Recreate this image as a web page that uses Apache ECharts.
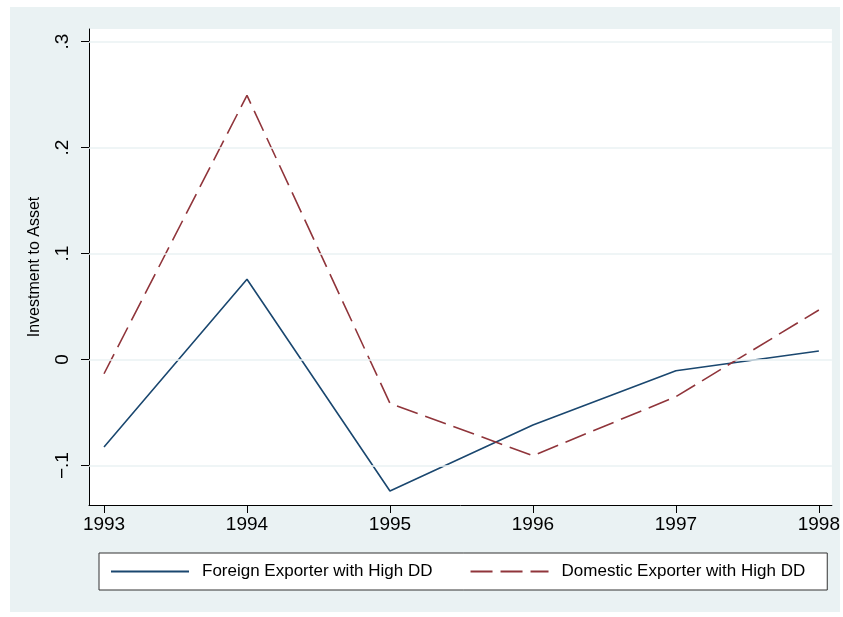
<!DOCTYPE html>
<html>
<head>
<meta charset="utf-8">
<script src="https://cdn.jsdelivr.net/npm/echarts@6/dist/echarts.min.js"></script>
<style>html,body{margin:0;padding:0;background:#fff}#c{width:843px;height:617px}</style>
</head>
<body>
<div id="c"></div>
<script>
var years = [1993, 1994, 1995, 1996, 1997, 1998];
var foreignHighDD = [-0.0825, 0.0757, -0.124, -0.0618, -0.0106, 0.008];
var domesticHighDD = [-0.0134, 0.2492, -0.0413, -0.0907, -0.035, 0.0467];
var yTicks = [-0.1, 0, 0.1, 0.2, 0.3];
var yTickLabels = ['\u2212.1', '0', '.1', '.2', '.3'];
var seriesNames = ['Foreign Exporter with High DD', 'Domestic Exporter with High DD'];
var yTitle = 'Investment to Asset';

var FONT = 'Liberation Sans, Arial, sans-serif';
function pairs(xs, ys){ return xs.map(function(x,i){ return [x, ys[i]]; }); }

var chart = echarts.init(document.getElementById('c'), null, {renderer:'canvas'});
chart.setOption({
  backgroundColor: '#ffffff',
  animation: false,
  graphic: [{
    type: 'rect', z: -100, silent: true,
    shape: {x: 10, y: 7, width: 830, height: 605},
    style: {fill: '#eaf2f3'}
  }],
  grid: {left: 89, top: 29, width: 745, height: 476, show: true, backgroundColor: '#ffffff', borderWidth: 0},
  xAxis: {
    type: 'value', min: 1992.895, max: 1998.091,
    axisLine: {onZero: false, lineStyle: {color: '#000', width: 1}},
    axisTick: {customValues: years, length: 8, lineStyle: {color: '#000'}},
    axisLabel: {customValues: years, margin: 10, fontSize: 19, color: '#000', fontFamily: FONT,
      formatter: function(v){ return String(Math.round(v)); }},
    splitLine: {show: false}
  },
  yAxis: {
    type: 'value', min: -0.1372, max: 0.3118,
    name: yTitle, nameLocation: 'middle', nameRotate: 90, nameGap: 46,
    nameTextStyle: {fontSize: 16, color: '#000', fontFamily: FONT},
    axisLine: {show: true, onZero: false, lineStyle: {color: '#000', width: 1}},
    axisTick: {show: true, customValues: yTicks, length: 8, lineStyle: {color: '#000'}},
    axisLabel: {customValues: yTicks, rotate: 90, margin: 17, fontSize: 19, color: '#000', fontFamily: FONT,
      formatter: function(v){
        for (var i=0;i<yTicks.length;i++){ if (Math.abs(v-yTicks[i])<1e-6) return yTickLabels[i]; }
        return '';
      }},
    splitLine: {show: false}
  },
  legend: {
    left: 99, top: 553, orient: 'horizontal',
    padding: [10, 22, 10, 11],
    itemWidth: 78, itemHeight: 14, itemGap: 37,
    backgroundColor: '#ffffff', borderColor: '#333', borderWidth: 1,
    itemStyle: {opacity: 0},
    textStyle: {fontSize: 17, color: '#000', fontFamily: FONT, padding: [0,0,0,8]},
    data: seriesNames
  },
  series: [
    {
      type: 'line', name: '__grid', data: [], z: 1, silent: true,
      markLine: {
        silent: true, symbol: 'none', label: {show: false},
        lineStyle: {color: '#eaf2f3', width: 1.5, type: 'solid'},
        data: yTicks.map(function(t){ return {yAxis: t}; })
      }
    },
    {
      type: 'line', name: seriesNames[0], data: pairs(years, foreignHighDD), z: 3,
      symbol: 'none', color: '#1a476f',
      lineStyle: {color: '#1a476f', width: 1.6}
    },
    {
      type: 'line', name: seriesNames[1], data: pairs(years, domesticHighDD), z: 3,
      symbol: 'none', color: '#90353b',
      lineStyle: {color: '#90353b', width: 1.6, type: [22, 8]}
    }
  ]
});
</script>
</body>
</html>
